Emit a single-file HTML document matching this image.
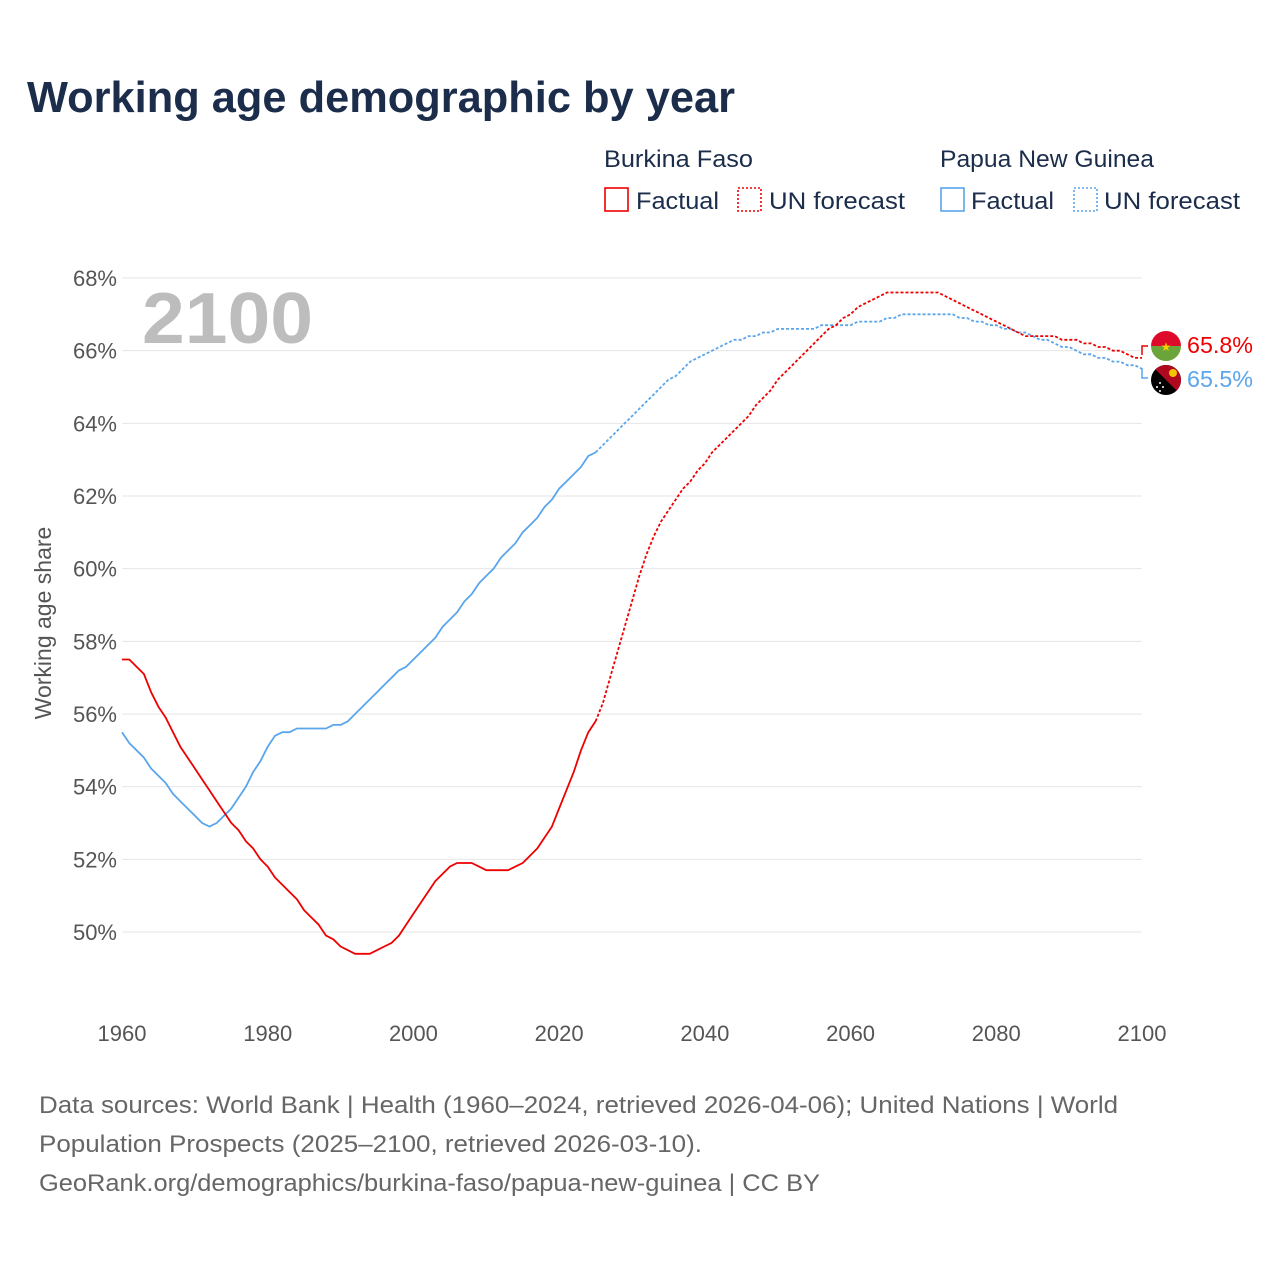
<!DOCTYPE html>
<html><head><meta charset="utf-8"><style>
body{margin:0;background:#fff;font-family:"Liberation Sans",sans-serif}
svg text{font-family:"Liberation Sans",sans-serif}
</style></head><body>
<svg width="1280" height="1280" viewBox="0 0 1280 1280">
<text x="27" y="112" font-size="44" font-weight="bold" fill="#1b2d4b" textLength="708" lengthAdjust="spacingAndGlyphs">Working age demographic by year</text>
<g font-size="24" fill="#1b2d4b">
<text x="604" y="167" textLength="149" lengthAdjust="spacingAndGlyphs">Burkina Faso</text>
<text x="940" y="167" textLength="214" lengthAdjust="spacingAndGlyphs">Papua New Guinea</text>
<g><rect x="605" y="188" width="23" height="23" fill="none" stroke="#ee0000" stroke-width="1.6"/><text x="636" y="209" textLength="83" lengthAdjust="spacingAndGlyphs">Factual</text></g>
<g><rect x="738" y="188" width="23" height="23" fill="none" stroke="#ee0000" stroke-width="1.6" stroke-dasharray="2,2"/><text x="769" y="209" textLength="136" lengthAdjust="spacingAndGlyphs">UN forecast</text></g>
<g><rect x="941" y="188" width="23" height="23" fill="none" stroke="#5aa5eb" stroke-width="1.6"/><text x="971" y="209" textLength="83" lengthAdjust="spacingAndGlyphs">Factual</text></g>
<g><rect x="1074" y="188" width="23" height="23" fill="none" stroke="#5aa5eb" stroke-width="1.6" stroke-dasharray="2,2"/><text x="1104" y="209" textLength="136" lengthAdjust="spacingAndGlyphs">UN forecast</text></g>
</g>
<g id="grid"></g>
<g id="yticks" font-size="22" fill="#555" text-anchor="end"></g>
<g id="xticks" font-size="22" fill="#555" text-anchor="middle"></g>
<text x="142" y="343" font-size="72" font-weight="bold" fill="#bdbdbd" textLength="171" lengthAdjust="spacingAndGlyphs">2100</text>
<text transform="translate(51,623) rotate(-90)" font-size="23" fill="#555" text-anchor="middle">Working age share</text>
<g id="series"></g>
<g>
<polyline points="1142,355 1142,346 1148,346" fill="none" stroke="#ee0000" stroke-width="1.5"/>
<polyline points="1142,368 1142,378 1148,378" fill="none" stroke="#5aa5eb" stroke-width="1.5"/>
<g>
<clipPath id="c1"><circle cx="1166" cy="346" r="15"/></clipPath>
<g clip-path="url(#c1)"><rect x="1150" y="330" width="32" height="16" fill="#de0a2a"/><rect x="1150" y="346" width="32" height="16" fill="#6aa43a"/></g>
<text x="1166" y="351" font-size="12" fill="#f7d000" text-anchor="middle">★</text></g>
<g>
<clipPath id="c2"><circle cx="1166" cy="380" r="15"/></clipPath>
<g clip-path="url(#c2)"><rect x="1150" y="364" width="32" height="32" fill="#000"/><polygon points="1150,364 1182,364 1182,396" fill="#b0081e"/>
<circle cx="1173" cy="373" r="4" fill="#f5c400"/><circle cx="1160" cy="383" r="1" fill="#fff"/><circle cx="1157" cy="387" r="1" fill="#fff"/><circle cx="1163" cy="387" r="1" fill="#fff"/><circle cx="1160" cy="391" r="1" fill="#fff"/></g></g>
<text x="1187" y="353" font-size="23" fill="#ee0000" textLength="66" lengthAdjust="spacingAndGlyphs">65.8%</text>
<text x="1187" y="387" font-size="23" fill="#5aa5eb" textLength="66" lengthAdjust="spacingAndGlyphs">65.5%</text>
</g>
<g font-size="24" fill="#666">
<text x="39" y="1113" textLength="1079" lengthAdjust="spacingAndGlyphs">Data sources: World Bank | Health (1960–2024, retrieved 2026-04-06); United Nations | World</text>
<text x="39" y="1152" textLength="663" lengthAdjust="spacingAndGlyphs">Population Prospects (2025–2100, retrieved 2026-03-10).</text>
<text x="39" y="1191" textLength="781" lengthAdjust="spacingAndGlyphs">GeoRank.org/demographics/burkina-faso/papua-new-guinea | CC BY</text>
</g>
</svg>
<script>
const yTicks=[50,52,54,56,58,60,62,64,66,68];
const xTicks=[1960,1980,2000,2020,2040,2060,2080,2100];
const startYear=1960;
const bfValues=[57.5,57.5,57.3,57.1,56.6,56.2,55.9,55.5,55.1,54.8,54.5,54.2,53.9,53.6,53.3,53.0,52.8,52.5,52.3,52.0,51.8,51.5,51.3,51.1,50.9,50.6,50.4,50.2,49.9,49.8,49.6,49.5,49.4,49.4,49.4,49.5,49.6,49.7,49.9,50.2,50.5,50.8,51.1,51.4,51.6,51.8,51.9,51.9,51.9,51.8,51.7,51.7,51.7,51.7,51.8,51.9,52.1,52.3,52.6,52.9,53.4,53.9,54.4,55.0,55.5,55.8,
56.3,57.0,57.7,58.4,59.1,59.8,60.4,60.9,61.3,61.6,61.9,62.2,62.4,62.7,62.9,63.2,63.4,63.6,63.8,64.0,64.2,64.5,64.7,64.9,65.2,65.4,65.6,65.8,66.0,66.2,66.4,66.6,66.7,66.9,67.0,67.2,67.3,67.4,67.5,67.6,67.6,67.6,67.6,67.6,67.6,67.6,67.6,67.5,67.4,67.3,67.2,67.1,67.0,66.9,66.8,66.7,66.6,66.5,66.4,66.4,66.4,66.4,66.4,66.3,66.3,66.3,66.2,66.2,66.1,66.1,66.0,66.0,65.9,65.8,65.8];
const pngValues=[55.5,55.2,55.0,54.8,54.5,54.3,54.1,53.8,53.6,53.4,53.2,53.0,52.9,53.0,53.2,53.4,53.7,54.0,54.4,54.7,55.1,55.4,55.5,55.5,55.6,55.6,55.6,55.6,55.6,55.7,55.7,55.8,56.0,56.2,56.4,56.6,56.8,57.0,57.2,57.3,57.5,57.7,57.9,58.1,58.4,58.6,58.8,59.1,59.3,59.6,59.8,60.0,60.3,60.5,60.7,61.0,61.2,61.4,61.7,61.9,62.2,62.4,62.6,62.8,63.1,63.2,
63.4,63.6,63.8,64.0,64.2,64.4,64.6,64.8,65.0,65.2,65.3,65.5,65.7,65.8,65.9,66.0,66.1,66.2,66.3,66.3,66.4,66.4,66.5,66.5,66.6,66.6,66.6,66.6,66.6,66.6,66.7,66.7,66.7,66.7,66.7,66.8,66.8,66.8,66.8,66.9,66.9,67.0,67.0,67.0,67.0,67.0,67.0,67.0,67.0,66.9,66.9,66.8,66.8,66.7,66.7,66.6,66.6,66.5,66.5,66.4,66.3,66.3,66.2,66.1,66.1,66.0,65.9,65.9,65.8,65.8,65.7,65.7,65.6,65.6,65.5];
const forecastStart=2025;
const NS='http://www.w3.org/2000/svg';
const xS=y=>122+(y-1960)*(1142-122)/140;
const yS=v=>932-(v-50)*(932-278)/18;
function mk(tag,attrs,parent){const e=document.createElementNS(NS,tag);for(const k in attrs)e.setAttribute(k,attrs[k]);parent.appendChild(e);return e;}
const grid=document.getElementById('grid'),yt=document.getElementById('yticks'),xt=document.getElementById('xticks'),ser=document.getElementById('series');
yTicks.forEach(t=>{
 const l=mk('line',{x1:122,x2:1142,y1:yS(t),y2:yS(t),stroke:'#e6e6e6','stroke-width':1},grid);
 
 
 const tx=mk('text',{x:117,y:yS(t)+8},yt);tx.textContent=t+'%';
 
 
});
xTicks.forEach(t=>{
 const tx=mk('text',{x:xS(t),y:1041},xt);tx.textContent=t;
 
 
});
function draw(vals,color,name){
 const fi=forecastStart-startYear;
 const pts=(a,b)=>vals.slice(a,b+1).map((v,i)=>xS(startYear+a+i).toFixed(1)+','+yS(v).toFixed(1)).join(' ');
 const f=mk('polyline',{points:pts(0,fi),fill:'none',stroke:color,'stroke-width':1.8,'stroke-linejoin':'round'},ser);
 
 
 const d=mk('polyline',{points:pts(fi,vals.length-1),fill:'none',stroke:color,'stroke-width':1.8,'stroke-dasharray':'3,2'},ser);
 
 
}
draw(pngValues,'#5aa5eb','papua-new-guinea');
draw(bfValues,'#ee0000','burkina-faso');
</script>
</body></html>
